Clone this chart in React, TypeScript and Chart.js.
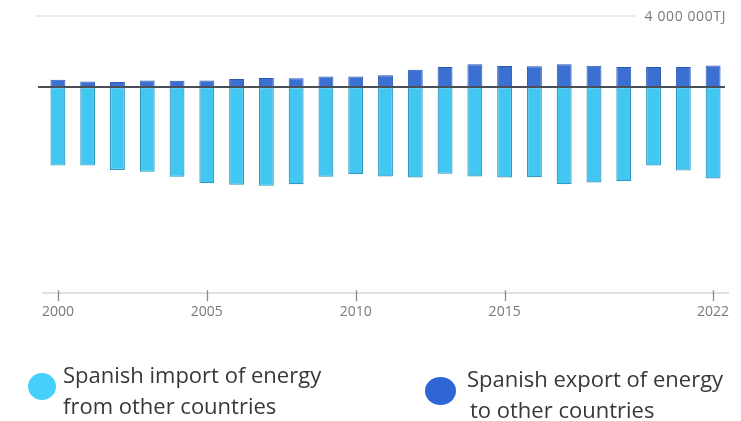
import React, { useEffect, useRef } from "react";
import { Chart, registerables } from "chart.js";
Chart.register(...registerables);

const years = ["2000","2001","2002","2003","2004","2005","2006","2007","2008","2009","2010","2011","2012","2013","2014","2015","2016","2017","2018","2019","2020","2021","2022"];
const shownYears = ["2000", "2005", "2010", "2015", "2022"];
// TJ, imports shown below zero
const importTJ = [4.42e6,4.42e6,4.66e6,4.77e6,5.04e6,5.41e6,5.5e6,5.56e6,5.47e6,5.04e6,4.9e6,5.03e6,5.09e6,4.88e6,5.03e6,5.09e6,5.07e6,5.47e6,5.37e6,5.3e6,4.41e6,4.7e6,5.14e6];
const exportTJ = [0.41e6,0.32e6,0.28e6,0.37e6,0.35e6,0.37e6,0.45e6,0.51e6,0.49e6,0.6e6,0.6e6,0.66e6,0.98e6,1.13e6,1.28e6,1.18e6,1.17e6,1.28e6,1.2e6,1.13e6,1.13e6,1.13e6,1.22e6];
const refLineValue = 4e6;
const refLineLabel = "4 000 000TJ";
const legendImport = ["Spanish import of energy", "from other countries"];
const legendExport = ["Spanish export of energy", "to other countries"];

const linesPlugin = {
  id: "lines",
  beforeDatasetsDraw(chart: any) {
    const { ctx, scales, chartArea } = chart;
    const y = scales.y.getPixelForValue(refLineValue);
    ctx.save();
    ctx.strokeStyle = "#e6e6e6";
    ctx.lineWidth = 1.5;
    ctx.beginPath();
    ctx.moveTo(chartArea.left - 7, y);
    ctx.lineTo(635, y);
    ctx.stroke();
    ctx.fillStyle = "#7a7a7a";
    ctx.font = "14px 'Open Sans'";
    try { (ctx as any).letterSpacing = "0.6px"; } catch (e) {}
    ctx.textAlign = "right";
    ctx.textBaseline = "middle";
    ctx.fillText(refLineLabel, 726, y + 1);
    ctx.restore();
  },
  afterDatasetsDraw(chart: any) {
    const { ctx, scales, chartArea } = chart;
    const y = scales.y.getPixelForValue(0);
    ctx.save();
    ctx.strokeStyle = "#4a4f57";
    ctx.lineWidth = 2;
    ctx.beginPath();
    ctx.moveTo(chartArea.left - 5, y);
    ctx.lineTo(chartArea.right - 3, y);
    ctx.stroke();
    // year tick marks crossing the base line
    ctx.strokeStyle = "#8a8a8a";
    ctx.lineWidth = 1.3;
    years.forEach((yr, i) => {
      if (!shownYears.includes(yr)) return;
      const x = Math.round(scales.x.getPixelForValue(i)) + 0.5;
      ctx.beginPath();
      ctx.moveTo(x, chartArea.bottom - 3);
      ctx.lineTo(x, chartArea.bottom + 8);
      ctx.stroke();
    });
    ctx.restore();
  },
};

export default function App() {
  const ref = useRef<HTMLCanvasElement>(null);
  useEffect(() => {
    const chart = new Chart(ref.current!, {
      type: "bar",
      data: {
        labels: years,
        datasets: [
          {
            label: "Spanish import of energy from other countries",
            data: importTJ.map((v) => -v),
            backgroundColor: "#42c7f2",
            borderColor: "#3399bd",
            borderWidth: 1.2,
            borderSkipped: false,
          },
          {
            label: "Spanish export of energy to other countries",
            data: exportTJ,
            backgroundColor: "#3b6fd2",
            borderColor: "#2d59b0",
            borderWidth: 1,
            borderSkipped: false,
          },
        ],
      },
      options: {
        animation: false,
        responsive: false,
        maintainAspectRatio: false,
        layout: { padding: { top: 16, left: 43, right: 13, bottom: 0 } },
        plugins: { legend: { display: false }, tooltip: { enabled: false } },
        datasets: { bar: { categoryPercentage: 1, barPercentage: 0.5 } },
        scales: {
          x: {
            stacked: true,
            offset: true,
            border: { display: true, color: "#e2e2e2", width: 2 },
            grid: {
              offset: false,
              drawOnChartArea: false,
              drawTicks: true,
              tickLength: 8,
              color: "rgba(0,0,0,0)",
            },
            ticks: {
              autoSkip: false,
              maxRotation: 0,
              padding: 2,
              color: "#7a7a7a",
              font: { family: "'Open Sans'", size: 14 },
              callback: (_v: any, i: number) => (shownYears.includes(years[i]) ? years[i] : ""),
            },
          },
          y: {
            stacked: true,
            display: false,
            min: -11.6e6,
            max: 4e6,
          },
        },
      },
      plugins: [linesPlugin],
    });
    return () => chart.destroy();
  }, []);

  const textStyle: React.CSSProperties = {
    position: "absolute",
    fontFamily: "'Open Sans'",
    fontSize: 22,
    color: "#383838",
    lineHeight: "31px",
    whiteSpace: "nowrap",
  };
  return (
    <div style={{ position: "fixed", left: 0, top: 0, width: 741, height: 421, background: "#fff" }}>
      <canvas ref={ref} width={741} height={322} style={{ position: "absolute", left: 0, top: 0 }} />
      <div style={{ position: "absolute", left: 28, top: 373, width: 28, height: 27, borderRadius: "50%", background: "#45cffa" }} />
      <div style={{ ...textStyle, left: 63, top: 359 }}>
        {legendImport[0]}<br />{legendImport[1]}
      </div>
      <div style={{ position: "absolute", left: 425, top: 377, width: 31, height: 28, borderRadius: "50%", background: "#2f66d6" }} />
      <div style={{ ...textStyle, left: 467, top: 363 }}>
        {legendExport[0]}<br /><span style={{ marginLeft: 3 }}>{legendExport[1]}</span>
      </div>
    </div>
  );
}
